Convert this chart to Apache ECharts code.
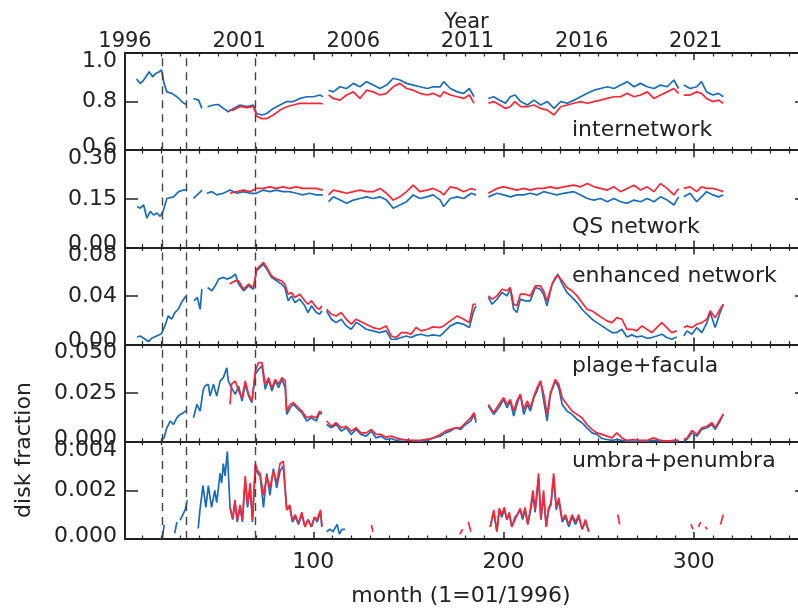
<!DOCTYPE html>
<html><head><meta charset="utf-8">
<script src="https://cdn.jsdelivr.net/npm/echarts@6/dist/echarts.min.js"></script>
<style>html,body{margin:0;padding:0;background:#fff;overflow:hidden}#c{width:830px;height:610px}</style>
</head><body><div id="c"></div>
<script>
// ---------------- data (month, value); null = gap ----------------
const PANEL_NAMES = ['internetwork','QS network','enhanced network','plage+facula','umbra+penumbra'];
const X_TITLE = 'month (1=01/1996)';
const Y_TITLE = 'disk fraction';
const Y_MIN = [0.6, 0, 0, 0, 0];
const Y_MAX = [1.0, 0.30, 0.08, 0.050, 0.004];
const Y_STEP = [0.2, 0.15, 0.04, 0.025, 0.002];
const Y_DEC = [1, 2, 2, 3, 3];
const MONTH_MAJOR = [100, 200, 300];
const MONTH_LABELS = ['100', '200', '300'];
const MONTH_MINOR = [10,20,30,40,50,60,70,80,90,110,120,130,140,150,160,170,180,190,210,220,230,240,250,260,270,280,290,310,320,330,340,350];
const YEAR_MONTHS = [1, 61, 121, 181, 241, 301];
const YEAR_LABELS = ['1996','2001','2006','2011','2016','2021'];
const EVENT_MONTHS = [20.5, 33, 69.5];

const IN_B = [[7,0.893],[9,0.875],[10.5,0.885],[12,0.902],[13.7,0.923],[15.5,0.902],[17.2,0.916],[19,0.923],[20.2,0.93],[21.5,0.876],[23,0.84],[25.6,0.834],[28.3,0.82],[30.9,0.80],[33,0.788],[35,null],[37,0.813],[39.7,0.806],[41.4,0.772],[43,null],[44.4,0.779],[47.5,0.786],[50,0.788],[52.7,0.772],[55.3,0.758],[58,0.772],[61.5,0.786],[65,0.78],[68.5,0.786],[70.2,0.751],[73,0.745],[75.5,0.751],[79,0.772],[82.5,0.786],[86,0.80],[89.5,0.80],[93,0.813],[96.5,0.82],[100,0.82],[103.5,0.827],[105,0.82],[106,null],[108,0.847],[110.5,0.84],[114,0.861],[117.5,0.854],[121,0.875],[124.5,0.861],[128,0.882],[131.5,0.868],[135,0.854],[138.5,0.868],[142,0.896],[145.5,0.889],[149,0.875],[152.5,0.868],[156,0.861],[160,0.854],[163,0.861],[166.7,0.861],[168.5,0.882],[172,0.854],[175.7,0.84],[179,0.834],[182,0.854],[184.5,0.82],[188,null],[192,0.813],[194.8,0.82],[198,0.806],[201,0.793],[203.5,0.82],[206,0.827],[209,0.80],[212.5,0.786],[216,0.806],[219.5,0.786],[223,0.80],[226.5,0.772],[230,0.80],[233.5,0.793],[237,0.806],[240.5,0.82],[244,0.834],[247.5,0.847],[251,0.854],[254.5,0.861],[258,0.854],[261.5,0.868],[265,0.882],[268.5,0.861],[272,0.875],[275.5,0.861],[279,0.854],[282.5,0.868],[286,0.861],[289.5,0.889],[292,0.854],[293,null],[294.7,0.868],[298,0.854],[301.5,0.861],[304,0.882],[306.7,0.84],[310,0.827],[313,0.834],[315.5,0.82]];
const IN_R = [[56,0.765],[58,0.765],[61.5,0.78],[65,0.775],[68.5,0.78],[70.2,0.74],[73,0.73],[75.5,0.73],[79,0.745],[82.5,0.765],[86,0.779],[89.5,0.786],[93,0.793],[96.5,0.793],[100,0.793],[103.5,0.793],[105,0.79],[106,null],[108,0.827],[110.5,0.813],[114,0.806],[117.5,0.827],[121,0.84],[124.5,0.813],[128,0.847],[131.5,0.84],[135,0.827],[138.5,0.834],[142,0.861],[145.5,0.875],[149,0.854],[152.5,0.847],[156,0.834],[160,0.827],[163,0.834],[166.7,0.82],[168.5,0.84],[172,0.827],[175.7,0.82],[179,0.813],[182,0.827],[184.5,0.793],[188,null],[192,0.793],[194.8,0.80],[198,0.786],[201,0.772],[203.5,0.779],[206,0.80],[209,0.779],[212.5,0.779],[216,0.786],[219.5,0.772],[223,0.765],[226.5,0.745],[230,0.779],[233.5,0.786],[237,0.793],[240.5,0.80],[244,0.793],[247.5,0.80],[251,0.806],[254.5,0.813],[258,0.82],[261.5,0.82],[265,0.834],[268.5,0.82],[272,0.827],[275.5,0.84],[279,0.813],[282.5,0.827],[286,0.84],[289.5,0.854],[292,0.834],[293,null],[294.7,0.827],[298,0.827],[301.5,0.84],[304,0.834],[306.7,0.813],[310,0.80],[313,0.806],[315.5,0.793]];

const QS_B = [[7.4,0.126],[9,0.121],[10.8,0.131],[12.5,0.09],[14.3,0.111],[16,0.10],[17.8,0.106],[19.5,0.096],[21,0.111],[23,0.151],[26.5,0.156],[29.2,0.172],[31.8,0.177],[33,0.177],[35,null],[37,0.151],[39.8,0.167],[41.5,0.177],[43,null],[44,0.167],[46.7,0.172],[49.3,0.162],[52.7,0.167],[56.2,0.177],[59.8,0.167],[63.3,0.172],[66.8,0.167],[70,0.167],[73.7,0.177],[77,0.172],[80.5,0.177],[84,0.172],[87.5,0.172],[91,0.167],[94.5,0.162],[98,0.167],[101.5,0.162],[105,0.162],[106,null],[108,0.141],[110.5,0.156],[114,0.146],[117.5,0.136],[121,0.146],[124.5,0.151],[128,0.156],[131.5,0.151],[135,0.156],[138.5,0.146],[142,0.121],[145.5,0.131],[149,0.141],[152.5,0.162],[156,0.151],[159.7,0.156],[163,0.162],[166.7,0.146],[168.5,0.126],[172,0.151],[175.7,0.156],[179,0.151],[183,0.167],[185.5,0.162],[188,null],[192,0.156],[196.5,0.167],[200,0.162],[203.5,0.156],[207,0.162],[210.5,0.162],[214,0.167],[217.5,0.162],[221,0.172],[224.5,0.167],[228,0.162],[231.5,0.167],[237,0.172],[240.5,0.162],[244,0.151],[247.5,0.146],[251,0.151],[254.5,0.141],[258,0.151],[261.5,0.141],[265,0.136],[268.5,0.146],[272,0.141],[275.5,0.151],[279,0.141],[282.5,0.156],[286,0.146],[289.5,0.131],[292,0.156],[293,null],[294.7,0.156],[298,0.167],[301.5,0.141],[304,0.156],[306.7,0.172],[310,0.162],[313,0.156],[315.5,0.162]];
const QS_R = [[56.2,0.167],[59.8,0.172],[63.3,0.177],[66.8,0.172],[70,0.182],[73.7,0.182],[77,0.187],[80.5,0.182],[84,0.187],[87.5,0.182],[91,0.187],[94.5,0.182],[98,0.182],[101.5,0.182],[105,0.177],[106,null],[108,0.162],[110.5,0.177],[114,0.172],[117.5,0.167],[121,0.172],[124.5,0.177],[128,0.172],[131.5,0.172],[135,0.182],[138.5,0.167],[142,0.146],[145.5,0.156],[149,0.172],[152.5,0.192],[156,0.172],[159.7,0.177],[163,0.182],[166.7,0.172],[168.5,0.162],[172,0.187],[175.7,0.182],[179,0.172],[183,0.182],[185.5,0.177],[188,null],[192,0.167],[196.5,0.182],[200,0.187],[203.5,0.182],[207,0.177],[210.5,0.182],[214,0.177],[217.5,0.182],[221,0.182],[224.5,0.187],[228,0.182],[231.5,0.187],[237,0.192],[240.5,0.187],[244,0.197],[247.5,0.187],[251,0.182],[254.5,0.177],[258,0.187],[261.5,0.172],[265,0.182],[268.5,0.192],[272,0.177],[275.5,0.187],[279,0.172],[282.5,0.197],[286,0.182],[289.5,0.162],[292,0.182],[293,null],[294.7,0.182],[298,0.187],[301.5,0.172],[304,0.187],[306.7,0.182],[310,0.182],[313,0.177],[315.5,0.172]];

const EN_B = [[7.4,0.0063],[9,0.0071],[11.6,0.0044],[13.4,0.0025],[15,0.0052],[17.6,0.0071],[20.2,0.009],[22,0.0154],[23.7,0.0236],[25.5,0.0209],[27.2,0.0264],[29,0.0291],[30.7,0.0346],[33,0.04],[35,null],[37.3,0.036],[39,0.0388],[40.5,0.029],[41.4,0.0456],[43,null],[44.4,0.047],[46.7,0.0443],[48.4,0.0484],[50.2,0.0539],[52.8,0.0553],[54.5,0.0539],[57,0.0553],[59,0.058],[60.7,0.0498],[63.3,0.0443],[66,0.0484],[68.5,0.0456],[70.2,0.0608],[72,0.0635],[73.8,0.0663],[75.5,0.0621],[78,0.0553],[80.7,0.0525],[83.3,0.0498],[85,0.047],[86.8,0.036],[88.5,0.0401],[90.3,0.0346],[92.9,0.0374],[95.5,0.0319],[97.2,0.0264],[99,0.0319],[101.6,0.0264],[103.3,0.025],[104.5,0.0278],[106,null],[107,0.0278],[109.5,0.0209],[112,0.0181],[114.7,0.0209],[117.3,0.0154],[119.9,0.0126],[122.5,0.0181],[124.3,0.0167],[127.8,0.0126],[131.3,0.0113],[134.8,0.0099],[138.3,0.0113],[140.9,0.0044],[143.5,0.0044],[146.2,0.0058],[148.8,0.0071],[151.4,0.0058],[154,0.0078],[156.7,0.0085],[160,0.0071],[163,0.008],[166.7,0.0071],[168.5,0.0099],[172,0.0154],[175.7,0.0181],[179,0.0167],[182,0.014],[184,0.0264],[185.5,0.0319],[188,null],[192,0.0388],[194,0.0332],[196.5,0.0374],[199.2,0.0429],[201.8,0.0401],[203.5,0.0456],[205.3,0.0291],[207,0.0264],[208.8,0.0374],[211.5,0.036],[214,0.036],[216.7,0.047],[219.3,0.0456],[221,0.0415],[222.8,0.0319],[225.5,0.0498],[227.2,0.0539],[228.5,0.058],[230.8,0.0498],[233.3,0.0429],[236,0.0388],[238.6,0.0346],[241.2,0.0291],[243.8,0.025],[246.5,0.0209],[249,0.0181],[251.7,0.0154],[254.3,0.0126],[257,0.0099],[259.5,0.0099],[262.2,0.0126],[264.8,0.0063],[267.5,0.008],[270,0.0063],[272.7,0.0071],[275.3,0.0052],[277.9,0.0058],[280.5,0.0071],[283.2,0.0085],[285.8,0.0058],[288.4,0.0044],[291,0.0063],[292.5,null],[294.7,0.0071],[296.4,0.0113],[299,0.0085],[301.6,0.014],[304.2,0.0099],[306.9,0.0181],[308.6,0.0264],[311.2,0.014],[313.8,0.0264],[315.5,0.0332]];
const EN_R = [[56,0.0498],[59,0.0525],[60.7,0.0525],[63.3,0.0456],[66,0.0498],[68.5,0.047],[70.2,0.0621],[72,0.0649],[73.8,0.0676],[75.5,0.0635],[78,0.0566],[80.7,0.0539],[83.3,0.0525],[85,0.0498],[86.8,0.0415],[88.5,0.0429],[90.3,0.0388],[92.9,0.0415],[95.5,0.036],[97.2,0.0332],[99,0.036],[101.6,0.0305],[103.3,0.0291],[104.5,0.0319],[106,null],[107,0.0291],[109.5,0.025],[112,0.0236],[114.7,0.0264],[117.3,0.0209],[119.9,0.0168],[122.5,0.0209],[124.3,0.0195],[127.8,0.0168],[131.3,0.014],[134.8,0.0126],[138.3,0.0154],[140.9,0.0071],[143.5,0.0058],[146.2,0.0099],[148.8,0.0099],[151.4,0.0085],[154,0.014],[156.7,0.0113],[160,0.0126],[163,0.0146],[166.7,0.014],[168.5,0.0154],[172,0.0195],[175.7,0.0236],[179,0.0209],[182,0.0181],[184,0.0332],[185.5,0.0332],[188,null],[192,0.0401],[194,0.0374],[196.5,0.0401],[199.2,0.0456],[201.8,0.0443],[203.5,0.047],[205.3,0.0332],[207,0.0319],[208.8,0.0415],[211.5,0.0415],[214,0.0401],[216.7,0.0484],[219.3,0.0484],[221,0.0443],[222.8,0.036],[225.5,0.0498],[227.2,0.0553],[228.5,0.0566],[230.8,0.0525],[233.3,0.047],[236,0.0443],[238.6,0.0401],[241.2,0.0346],[243.8,0.0291],[246.5,0.0278],[249,0.025],[251.7,0.0222],[254.3,0.0195],[257,0.0181],[259.5,0.0222],[262.2,0.0209],[264.8,0.0126],[267.5,0.0126],[270,0.0113],[272.7,0.0154],[275.3,0.0126],[277.9,0.0099],[280.5,0.014],[283.2,0.0181],[285.8,0.014],[288.4,0.0099],[291,0.0113],[292.5,null],[294.7,0.014],[296.4,0.0154],[299,0.014],[301.6,0.0168],[304.2,0.0181],[306.9,0.0209],[308.6,0.0278],[311.2,0.0222],[313.8,0.0291],[315.5,0.0332]];

const PF_B = [[20,0.0012],[21.5,0.002],[23,0.0072],[24.8,0.0107],[26.5,0.0089],[28.3,0.0124],[30,0.0141],[31.8,0.015],[33,0.0161],[35,null],[37,0.0124],[38.8,0.0192],[40.5,0.0158],[42,0.0261],[43,0.0287],[44.8,0.0296],[45.7,0.0235],[47.5,0.0296],[49.2,0.0235],[51,0.0313],[52.7,0.033],[54.5,0.0381],[55.3,0.0313],[57,0.0278],[59,0.0244],[60.7,0.0287],[62.5,0.021],[64.2,0.0296],[66,0.0235],[67.7,0.0201],[69.5,0.0347],[71.2,0.0373],[73,0.039],[74.7,0.027],[76.5,0.0321],[78.2,0.0261],[80,0.0313],[81.7,0.0278],[83.5,0.0321],[85.2,0.0278],[86,0.0141],[87.8,0.0175],[89.5,0.0192],[91.3,0.0175],[93.9,0.015],[96.5,0.0107],[99,0.0124],[101.6,0.0107],[103.3,0.015],[104.5,0.0141],[106,null],[107,0.0089],[109.5,0.0072],[112,0.0089],[114.7,0.0055],[117.3,0.0072],[119.9,0.0038],[122.5,0.0064],[125,0.0038],[127.8,0.0029],[130.4,0.0055],[133,0.002],[135.6,0.0029],[138.3,0.0012],[140.9,0.0017],[143.5,0.0007],[147,0.0012],[150.5,0.0007],[155.8,0.0003],[160,0.0007],[163,0.002],[166.7,0.0029],[169.4,0.0046],[172,0.0055],[174.8,0.0072],[177.4,0.0064],[180,0.0089],[182.7,0.0107],[184.5,0.0141],[185.5,0.0098],[188,null],[192,0.0184],[194.8,0.0141],[197.5,0.0175],[200,0.0218],[201.8,0.0175],[203.5,0.021],[205.3,0.0132],[207,0.0192],[208.8,0.0244],[210.6,0.0141],[212.4,0.0192],[214.1,0.0158],[215.9,0.0227],[217.6,0.0261],[219.4,0.0313],[221.1,0.021],[222.9,0.0107],[224.6,0.0244],[227.2,0.0313],[229,0.0278],[230.8,0.0192],[233.3,0.0158],[236,0.0141],[238.6,0.0115],[241.2,0.0098],[243.8,0.0072],[246.5,0.0046],[249,0.0038],[251.7,0.0017],[254.3,0.0012],[257,0.0007],[259.5,0.0012],[262.2,0.0007],[264.8,0.0003],[268.3,0.0003],[271.8,0.0003],[275.3,0.0003],[278.8,0.0007],[282.4,0.0003],[285.8,0.0003],[289.3,0.0003],[292,0.0003],[292.5,null],[294.7,0.0004],[296.4,0.0012],[299,0.0046],[301.6,0.0029],[304.2,0.0064],[306.9,0.0072],[309.5,0.0089],[311.2,0.0064],[313.8,0.0107],[315.5,0.0141]];
const PF_R = [[56.2,0.0192],[57,0.0296],[59,0.0313],[60.7,0.0261],[62.5,0.0227],[64.2,0.0313],[66,0.0244],[67.7,0.021],[69.5,0.0364],[71.2,0.0407],[73,0.0407],[74.7,0.0296],[76.5,0.033],[78.2,0.0278],[80,0.0321],[81.7,0.0296],[83.5,0.033],[85.2,0.0313],[86,0.0158],[87.8,0.0192],[89.5,0.0201],[91.3,0.0184],[93.9,0.0158],[96.5,0.0124],[99,0.0132],[101.6,0.0124],[103.3,0.0158],[104.5,0.015],[106,null],[107,0.0107],[109.5,0.008],[112,0.0098],[114.7,0.0072],[117.3,0.008],[119.9,0.0055],[122.5,0.0072],[125,0.0046],[127.8,0.0046],[130.4,0.0064],[133,0.0038],[135.6,0.0038],[138.3,0.0024],[140.9,0.0029],[143.5,0.002],[147,0.0012],[150.5,0.0007],[155.8,0.0007],[160,0.0012],[163,0.002],[166.7,0.0038],[169.4,0.0055],[172,0.0064],[174.8,0.0072],[177.4,0.0072],[180,0.0098],[182.7,0.0124],[184.5,0.015],[185.5,0.011],[188,null],[192,0.0192],[194.8,0.015],[197.5,0.0192],[200,0.0227],[201.8,0.0192],[203.5,0.0218],[205.3,0.0158],[207,0.021],[208.8,0.0244],[210.6,0.0167],[212.4,0.021],[214.1,0.0175],[215.9,0.0235],[217.6,0.0278],[219.4,0.0313],[221.1,0.0244],[222.9,0.0141],[224.6,0.0252],[227.2,0.0321],[229,0.0296],[230.8,0.0227],[233.3,0.0192],[236,0.0158],[238.6,0.0141],[241.2,0.0124],[243.8,0.0089],[246.5,0.0064],[249,0.0046],[251.7,0.0038],[254.3,0.0029],[257,0.002],[259.5,0.0046],[262.2,0.002],[264.8,0.0007],[268.3,0.0012],[271.8,0.0007],[275.3,0.0007],[278.8,0.002],[282.4,0.0007],[285.8,0.0003],[289.3,0.0007],[292,0.0007],[292.5,null],[294.7,0.0012],[296.4,0.002],[299,0.0058],[301.6,0.0038],[304.2,0.0072],[306.9,0.008],[309.5,0.0098],[311.2,0.0072],[313.8,0.0115],[315.5,0.0144]];

const UP_B = [[20.6,0.00003],[21.6,0.00058],[22.5,null],[27.1,0.00023],[28.3,0.0007],[29.2,null],[30,0.00078],[31,0.0007],[32.6,0.0012],[33.7,0.0016],[35,null],[39.5,0.00044],[40.4,0.0012],[42,0.0022],[43.5,0.0013],[44.8,0.0022],[46.5,0.0013],[48.2,0.002],[49.2,0.0015],[51,0.0027],[51.8,0.0023],[52.7,0.0031],[53.6,0.0026],[54.8,0.0036],[56.2,0.0013],[57.6,0.0008],[58.8,0.0015],[60,0.0007],[61.5,0.0013],[62.7,0.0007],[64.2,0.0024],[65.4,0.0013],[66.8,0.0021],[68,0.0007],[69.5,0.0029],[70.7,0.0027],[72,0.0026],[73.8,0.0013],[75.5,0.0027],[77.2,0.0018],[79,0.0029],[80.7,0.0021],[82.5,0.0028],[84.2,0.003],[86,0.0012],[87.6,0.0013],[89,0.0007],[90.5,0.0009],[92.2,0.0006],[93.9,0.001],[95.6,0.0005],[97.2,0.0008],[99,0.0005],[100.6,0.0009],[102,0.0007],[103.8,0.0011],[104.5,0.0005],[106,null],[107,0.0003],[108.7,0.0004],[110.3,0.0003],[112.5,0.0006],[113.7,0.0002],[115,0.0004],[116.7,0.0004],[117.5,null],[193,0.0005],[194.8,0.0011],[196.5,0.0003],[197.7,0.0012],[199,0.0009],[200.4,0.0012],[201.7,0.0008],[203,0.001],[204.3,0.0005],[206,0.0009],[207.2,0.001],[208.7,0.0012],[210,0.0008],[211.3,0.0012],[212.7,0.0006],[214,0.0011],[215.4,0.0018],[216.6,0.0011],[218.4,0.0025],[219.6,0.0008],[221,0.0018],[222.4,0.0005],[223.6,0.0012],[224.9,0.0014],[226.3,0.0025],[227.7,0.0012],[229,0.0016],[230.8,0.0007],[232.5,0.0009],[234.3,0.0005],[236,0.0009],[237.8,0.0006],[239.5,0.0009],[241.3,0.0004],[243,0.0007],[244.8,0.0003],[246,null]];
const UP_R = [[56.2,0.0013],[57.6,0.00085],[58.8,0.0016],[60,0.00078],[61.5,0.0014],[62.7,0.00078],[64.2,0.0026],[65.4,0.0014],[66.8,0.0023],[68,0.00078],[69.5,0.0031],[70.7,0.0028],[72,0.0027],[73.8,0.0018],[75.5,0.0026],[77.2,0.0021],[79,0.0028],[80.7,0.0023],[82.5,0.0031],[84.2,0.0032],[86,0.0012],[87.6,0.0014],[89,0.00078],[90.5,0.001],[92.2,0.00065],[93.9,0.0011],[95.6,0.0005],[97.2,0.0008],[99,0.0005],[100.6,0.0009],[102,0.0008],[103.8,0.0012],[104.5,0.0005],[106,null],[130.5,0.00058],[131.3,0.0003],[132,null],[177,0.0002],[178.5,0.0004],[179.5,null],[181.5,0.0007],[182.8,0.0003],[184,null],[193,0.0005],[194.8,0.0012],[196.5,0.0003],[197.7,0.00126],[199,0.001],[200.4,0.0013],[201.7,0.0008],[203,0.0011],[204.3,0.0005],[206,0.0008],[207.2,0.001],[208.7,0.00126],[210,0.0009],[211.3,0.0013],[212.7,0.0006],[214,0.0012],[215.4,0.002],[216.6,0.0012],[218.4,0.0027],[219.6,0.0008],[221,0.002],[222.4,0.0005],[223.6,0.00126],[224.9,0.0015],[226.3,0.0027],[227.7,0.0013],[229,0.0017],[230.8,0.0008],[232.5,0.001],[234.3,0.0006],[236,0.001],[237.8,0.0007],[239.5,0.001],[241.3,0.0004],[243,0.0008],[244.8,0.0003],[246,null],[260,0.001],[261,0.0006],[262,null],[298.5,0.0006],[299.5,0.0004],[300.5,null],[302.5,0.0005],[303.5,0.0007],[304.5,null],[306,0.0005],[307,0.0004],[308,null],[314,0.0006],[315.5,0.001]];

const BLUE_SERIES = [IN_B, QS_B, EN_B, PF_B, UP_B];
const RED_SERIES = [IN_R, QS_R, EN_R, PF_R, UP_R];

// ---------------- layout & style ----------------
const FONT = 'DejaVu Sans';
const INK = '#222';
const BLUE = '#1a6db5';
const RED = '#ff2638';
const L = 125, W = 683, TOP = 53, PH = 97.2;
const X_MIN = 1, X_MAX = 360;
const LABEL_X = 572;
const LABEL_Y = [131, 228, 277, 367, 462];
const MONTH_LABEL_Y = 562;

function prep(arr) { return arr.map(p => [p[0], p[1] === null ? '-' : p[1]]); }

const grids = [], xAxes = [], yAxes = [], series = [], graphics = [];
for (let k = 0; k < 2; k++)
  for (let i = 0; i < 5; i++)
    grids.push({ left: L, width: W, top: TOP + i * PH, height: PH, outerBoundsMode: 'none', containLabel: false });

const lineStyle = { color: INK, width: 2 };
for (let i = 0; i < 5; i++) {
  const base = { type: 'value', min: X_MIN, max: X_MAX, splitLine: { show: false } };
  // main bottom
  xAxes.push(Object.assign({}, base, {
    gridIndex: i, position: 'bottom',
    axisLine: { show: true, onZero: false, lineStyle },
    axisTick: { show: true, inside: true, length: 7, customValues: MONTH_MAJOR, lineStyle: { color: INK, width: 1.5 } },
    axisLabel: { show: false }
  }));
  // main top
  xAxes.push(Object.assign({}, base, {
    gridIndex: i, position: 'top',
    axisLine: { show: true, onZero: false, lineStyle },
    axisTick: { show: true, inside: true, length: 7, customValues: MONTH_MAJOR, lineStyle: { color: INK, width: 1.5 } },
    axisLabel: { show: false }
  }));
  // minor bottom
  xAxes.push(Object.assign({}, base, {
    gridIndex: 5 + i, position: 'bottom',
    axisLine: { show: false },
    axisTick: { show: true, inside: true, length: 3.5, customValues: MONTH_MINOR, lineStyle: { color: INK, width: 1.2 } },
    axisLabel: { show: false }
  }));
  // minor top (+ year labels on the first panel)
  xAxes.push(Object.assign({}, base, {
    gridIndex: 5 + i, position: 'top',
    axisLine: { show: false },
    axisTick: { show: true, inside: true, length: 3.5, customValues: MONTH_MINOR, lineStyle: { color: INK, width: 1.2 } },
    axisLabel: i === 0 ? {
      show: true, customValues: YEAR_MONTHS, fontSize: 21, fontFamily: FONT, color: INK, margin: 1,
      formatter: v => YEAR_LABELS[YEAR_MONTHS.indexOf(v)]
    } : { show: false },
    name: i === 0 ? 'Year' : '', nameLocation: 'middle', nameGap: 20, nameMoveOverlap: false,
    nameTextStyle: { fontSize: 21, fontFamily: FONT, color: INK }
  }));

  const mn = Y_MIN[i], mx = Y_MAX[i], dec = Y_DEC[i];
  const rs = { fontSize: 22, fontFamily: FONT, color: INK };
  yAxes.push({
    type: 'value', gridIndex: i, position: 'left', min: mn, max: mx, interval: Y_STEP[i],
    splitLine: { show: false },
    axisLine: { show: true, onZero: false, lineStyle },
    axisTick: { show: true, inside: true, length: 13, lineStyle: { color: INK, width: 1.5 } },
    axisLabel: {
      margin: 8, fontSize: 22, fontFamily: FONT, color: INK, hideOverlap: false,
      formatter: v => {
        const s = v.toFixed(dec);
        if (Math.abs(v - mn) < 1e-9) return '{lo|' + s + '}';
        if (Math.abs(v - mx) < 1e-9) return '{hi|' + s + '}';
        return '{md|' + s + '}';
      },
      rich: {
        lo: Object.assign({ padding: [0, 0, 6, 0] }, rs),
        hi: Object.assign({ padding: [16, 0, 0, 0] }, rs),
        md: Object.assign({}, rs)
      }
    }
  });
  yAxes.push({
    type: 'value', gridIndex: i, position: 'right', min: mn, max: mx, interval: Y_STEP[i],
    splitLine: { show: false },
    axisLine: { show: true, onZero: false, lineStyle },
    axisTick: { show: true, inside: true, length: 13, lineStyle: { color: INK, width: 1.5 } },
    axisLabel: { show: false }
  });
  yAxes.push({ type: 'value', gridIndex: 5 + i, min: 0, max: 1, show: false });

  series.push({
    type: 'line', xAxisIndex: 4 * i, yAxisIndex: 3 * i, data: prep(BLUE_SERIES[i]),
    showSymbol: false, symbol: 'none', connectNulls: false, z: 3,
    lineStyle: { color: BLUE, width: 1.7 }, itemStyle: { color: BLUE },
    markLine: {
      silent: true, symbol: ['none', 'none'], label: { show: false },
      lineStyle: { type: [8, 6], color: '#444', width: 1.4 },
      data: EVENT_MONTHS.map(m => ({ xAxis: m }))
    }
  });
  series.push({
    type: 'line', xAxisIndex: 4 * i, yAxisIndex: 3 * i, data: prep(RED_SERIES[i]),
    showSymbol: false, symbol: 'none', connectNulls: false, z: 4,
    lineStyle: { color: RED, width: 1.7 }, itemStyle: { color: RED }
  });

  graphics.push({
    type: 'text', left: LABEL_X, top: LABEL_Y[i] - 12,
    style: { text: PANEL_NAMES[i], fontSize: 22, fontFamily: FONT, fill: INK }
  });
}
graphics.push({
  type: 'text', x: 24, y: 450, rotation: Math.PI / 2,
  style: { text: Y_TITLE, fontSize: 22, fontFamily: FONT, fill: INK, align: 'center', verticalAlign: 'middle' }
});
graphics.push({
  type: 'text', x: 461, y: 596,
  style: { text: X_TITLE, fontSize: 22, fontFamily: FONT, fill: INK, align: 'center', verticalAlign: 'middle' }
});

const chart = echarts.init(document.getElementById('c'), null, { renderer: 'canvas' });
chart.setOption({
  animation: false,
  backgroundColor: '#fff',
  grid: grids, xAxis: xAxes, yAxis: yAxes, series: series
});
// month tick labels placed through the bottom axis' own scale
const bottomAxisIndex = 4 * 4;
MONTH_MAJOR.forEach((v, k) => {
  const px = chart.convertToPixel({ xAxisIndex: bottomAxisIndex }, v);
  graphics.push({
    type: 'text', x: px, y: MONTH_LABEL_Y,
    style: { text: MONTH_LABELS[k], fontSize: 22, fontFamily: FONT, fill: INK, align: 'center', verticalAlign: 'middle' }
  });
});
chart.setOption({ graphic: graphics });
</script></body></html>
